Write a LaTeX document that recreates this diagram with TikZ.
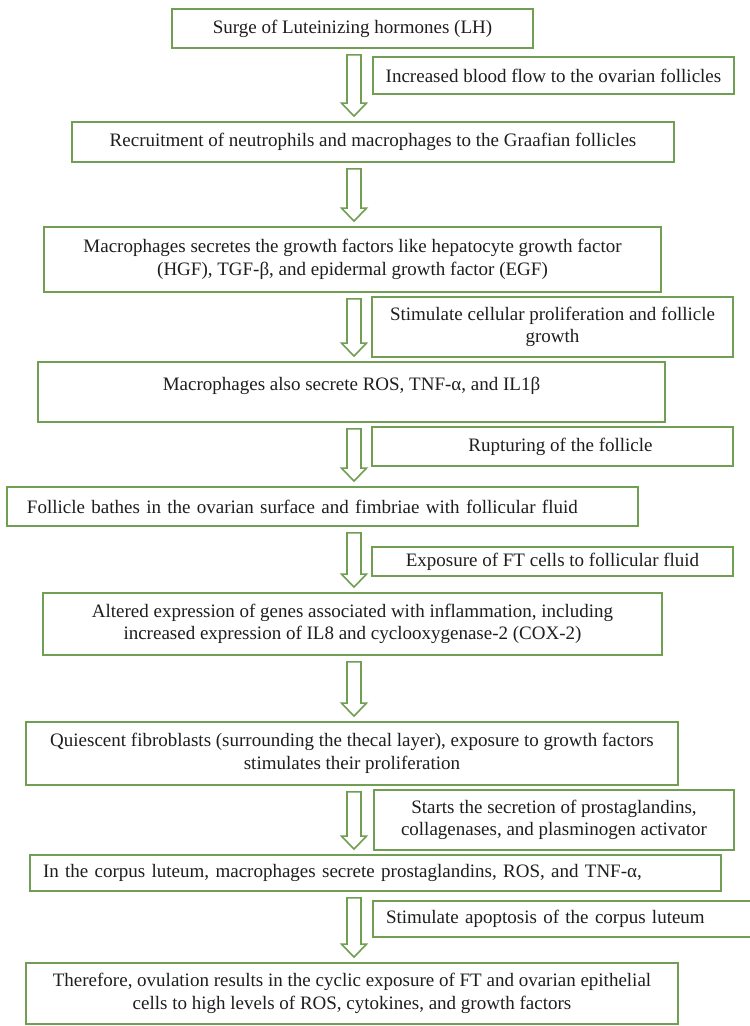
\documentclass[tikz,border=0pt]{standalone}
\usepackage{fontspec}
\setmainfont{Liberation Serif}
\usetikzlibrary{calc}
\definecolor{boxgreen}{RGB}{112,158,82}
\definecolor{txt}{RGB}{30,30,30}
\tikzset{
  box/.style={draw=boxgreen, line width=1.8pt, fill=white, inner sep=0pt, align=center, text=txt,
    font=\fontsize{19}{22.5}\selectfont},
  leftbox/.style={box, align=left},
  arrowsty/.style={draw=boxgreen, line width=1.6pt, fill=white, line join=miter}
}
\newcommand\flowarrow[2]{%
  \path[arrowsty] let \p1=(#1.south), \p2=(#2.north) in
    (347pt,\y1-6pt) -- (361pt,\y1-6pt) -- (361pt,\y2+18pt) -- (366.5pt,\y2+18pt)
    -- (354pt,\y2+5pt) -- (341.5pt,\y2+18pt) -- (347pt,\y2+18pt) -- cycle;}
\begin{document}
\begin{tikzpicture}[x=1pt,y=1pt]
\useasboundingbox (0,0) rectangle (750,-1026);
\fill[white] (0,0) rectangle (750,-1026);
\clip (0,0) rectangle (750,-1026);

% main boxes
\node[box, minimum width=361pt, minimum height=39pt] (b1) at (352.5,-28.5) {Surge of Luteinizing hormones (LH)};
\node[box, minimum width=602pt, minimum height=40pt] (b2) at (373,-142) {Recruitment of neutrophils and macrophages to the Graafian follicles};
\node[box, minimum width=617pt, minimum height=65pt] (b3) at (352.5,-259.5) {Macrophages secretes the growth factors like hepatocyte growth factor\\(HGF), TGF-β, and epidermal growth factor (EGF)};
\node[box, minimum width=627pt, minimum height=60pt] (b4) at (351.5,-392) {\raisebox{6pt}[\height][\depth]{Macrophages also secrete ROS, TNF-α, and IL1β}};
\node[leftbox, text width=591pt, inner xsep=20pt, minimum height=39pt] (b5) at (322.5,-506.5) {Follicle bathes in the ovarian surface and fimbriae with follicular fluid};
\node[box, minimum width=619pt, minimum height=62pt] (b6) at (352.5,-624) {Altered expression of genes associated with inflammation, including\\increased expression of IL8 and cyclooxygenase-2 (COX-2)};
\node[box, minimum width=652pt, minimum height=63pt] (b7) at (352,-753.5) {Quiescent fibroblasts (surrounding the thecal layer), exposure to growth factors\\stimulates their proliferation};
\node[leftbox, text width=665pt, inner xsep=13pt, minimum height=36pt] (b8) at (375.5,-873) {In the corpus luteum, macrophages secrete prostaglandins, ROS, and TNF-α,};
\node[box, minimum width=652pt, minimum height=61pt] (b9) at (352,-993.5) {Therefore, ovulation results in the cyclic exposure of FT and ovarian epithelial\\cells to high levels of ROS, cytokines, and growth factors};

% arrows
\flowarrow{b1}{b2}
\flowarrow{b2}{b3}
\flowarrow{b3}{b4}
\flowarrow{b4}{b5}
\flowarrow{b5}{b6}
\flowarrow{b6}{b7}
\flowarrow{b7}{b8}
\flowarrow{b8}{b9}

% side boxes
\node[box, minimum width=361pt, minimum height=37pt] (s1) at (553.5,-75.5) {Increased blood flow to the ovarian follicles};
\node[box, minimum width=361pt, minimum height=60pt] (s3) at (552.5,-327) {Stimulate cellular proliferation and follicle\\growth};
\node[box, minimum width=361pt, minimum height=39pt] (s4) at (552.5,-446.5) {\hspace*{16pt}Rupturing of the follicle};
\node[box, minimum width=361pt, minimum height=29pt] (s5) at (552.5,-561.5) {Exposure of FT cells to follicular fluid};
\node[box, minimum width=360pt, minimum height=60pt] (s7) at (554,-820) {Starts the secretion of prostaglandins,\\collagenases, and plasminogen activator};
\node[leftbox, text width=361pt, inner xsep=13pt, minimum height=36pt] (s8) at (566.5,-919) {Stimulate apoptosis of the corpus luteum};
\end{tikzpicture}
\end{document}
